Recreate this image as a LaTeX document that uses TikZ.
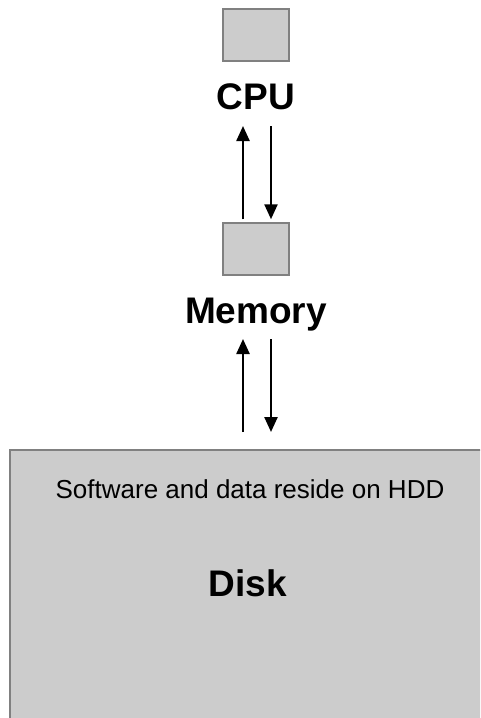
\documentclass[tikz,border=0pt]{standalone}
\usepackage{fontspec}
\setmainfont{Liberation Sans}
\usetikzlibrary{arrows.meta,calc}
\definecolor{boxfill}{HTML}{CCCCCC}
\definecolor{boxline}{HTML}{808080}
\begin{document}
\begin{tikzpicture}[x=1pt,y=-1pt,
  unitbox/.style={draw=boxline,fill=boxfill,line width=1.5pt,minimum width=66pt,minimum height=52pt,inner sep=0pt},
  biglabel/.style={font=\fontsize{37}{40}\selectfont\bfseries,inner sep=0pt},
  flow/.style={line width=2.4pt,-{Triangle[length=15pt,width=13pt]}}]
\useasboundingbox (0,0) rectangle (480,718);
\clip (0,0) rectangle (480,718);
\node[unitbox] (cpubox) at (256,35) {};
\node[biglabel,anchor=base] (cpulbl) at (256,109) {CPU};
\node[unitbox] (membox) at (256,249) {};
\node[biglabel,anchor=base] (memlbl) at (256,323) {Memory};
\node[draw=boxline,fill=boxfill,line width=1.5pt,minimum width=500pt,minimum height=300pt,anchor=north west,inner sep=0pt] (disk) at (9,449) {};
\node[font=\fontsize{26}{30}\selectfont,anchor=base,inner sep=0pt] (note) at (250,498) {Software and data reside on HDD};
\node[biglabel,anchor=base] (disklbl) at (248,596) {Disk};
\draw[flow] ($(membox.north)+(-13,-3)$) -- ($(cpulbl.base)+(-13,17)$);
\draw[flow] ($(cpulbl.base)+(15,17)$) -- ($(membox.north)+(15,-3)$);
\draw[flow] ($(disk.north west)+(234,-17)$) -- ($(memlbl.base)+(-13,16)$);
\draw[flow] ($(memlbl.base)+(15,16)$) -- ($(disk.north west)+(262,-17)$);
\end{tikzpicture}
\end{document}
